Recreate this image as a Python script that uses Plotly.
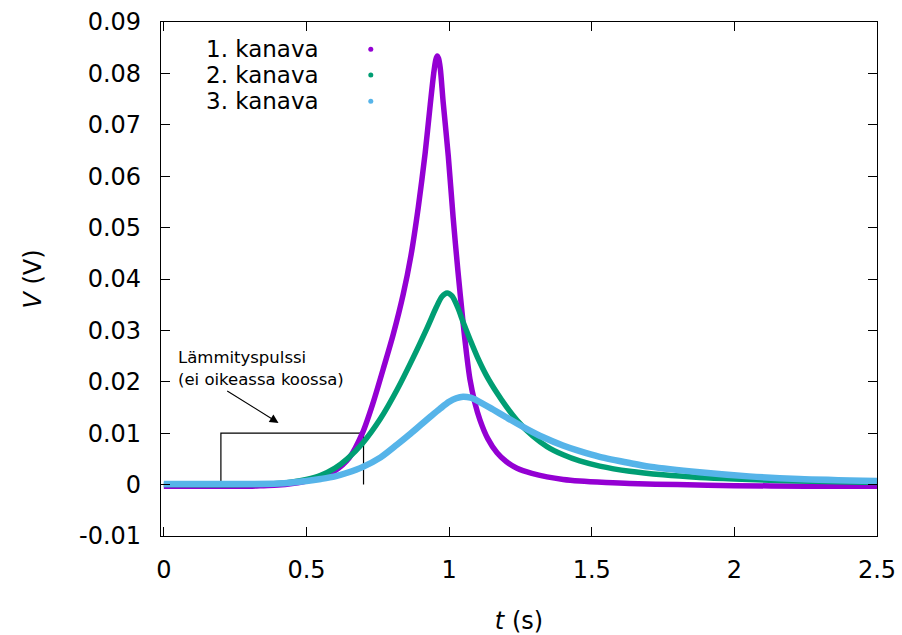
import plotly.graph_objects as go

# Measured channel voltages (V) against time (s)
t_ch1 = [0.0, 0.1, 0.2, 0.3, 0.35, 0.4, 0.45, 0.5, 0.55, 0.6, 0.65, 0.696, 0.734, 0.769,
         0.804, 0.839, 0.866, 0.892, 0.916, 0.934, 0.946, 0.953, 0.958, 0.963, 0.969,
         0.979, 0.997, 1.014, 1.031, 1.049, 1.061, 1.073, 1.09, 1.108, 1.135, 1.168, 1.2,
         1.238, 1.29, 1.343, 1.4, 1.458, 1.55, 1.633, 1.8, 2.0, 2.25, 2.5]
v_ch1 = [-0.0003, -0.0003, -0.0003, -0.0003, -0.0002, -0.0001, 0.0002, 0.0007, 0.0014,
         0.0027, 0.0052, 0.0100, 0.0160, 0.0225, 0.0292, 0.0370, 0.0445, 0.0540, 0.0645,
         0.0740, 0.0800, 0.0826, 0.0834, 0.0829, 0.0810, 0.0745, 0.0640, 0.0520, 0.0415,
         0.0315, 0.0255, 0.0205, 0.0160, 0.0126, 0.0090, 0.0062, 0.0045, 0.0032, 0.0022,
         0.0015, 0.0010, 0.0007, 0.0004, 0.0002, 0.0, -0.0002, -0.0003, -0.0003]

t_ch2 = [0.0, 0.3, 0.4, 0.45, 0.5, 0.55, 0.6, 0.643, 0.696, 0.759, 0.818, 0.874, 0.923,
         0.955, 0.975, 0.993, 1.01, 1.03, 1.05, 1.075, 1.1, 1.13, 1.168, 1.2, 1.238,
         1.294, 1.343, 1.4, 1.458, 1.528, 1.633, 1.75, 1.878, 2.0, 2.227, 2.5]
v_ch2 = [0.0, 0.0, 0.0002, 0.0005, 0.0010, 0.0018, 0.0032, 0.0050, 0.0080, 0.0128,
         0.0185, 0.0247, 0.0305, 0.0345, 0.0366, 0.0373, 0.0367, 0.0345, 0.0315, 0.0280,
         0.0247, 0.0213, 0.0178, 0.0152, 0.0125, 0.0094, 0.0074, 0.0058, 0.0046, 0.0036,
         0.0026, 0.0019, 0.0014, 0.0011, 0.0007, 0.0004]

t_ch3 = [0.0, 0.3, 0.4, 0.45, 0.5, 0.55, 0.6, 0.643, 0.696, 0.76, 0.818, 0.86, 0.9,
         0.934, 0.969, 1.0, 1.025, 1.049, 1.075, 1.1, 1.154, 1.2, 1.273, 1.33, 1.399,
         1.458, 1.528, 1.633, 1.703, 1.878, 2.052, 2.227, 2.5]
v_ch3 = [0.0001, 0.0001, 0.0002, 0.0004, 0.0007, 0.0011, 0.0016, 0.0023, 0.0034, 0.0053,
         0.0078, 0.0097, 0.0116, 0.0132, 0.0148, 0.0161, 0.0168, 0.0171, 0.0169, 0.0163,
         0.0146, 0.0131, 0.0108, 0.0092, 0.0076, 0.0065, 0.0054, 0.0042, 0.0035, 0.0024,
         0.0016, 0.0011, 0.0007]

series_names = ["1. kanava", "2. kanava", "3. kanava"]
series_colors = ["#9400d3", "#009e73", "#56b4e9"]
series_widths = [5.5, 5.5, 6.5]

# Heating pulse outline (not to scale): start, end, height
pulse_t = [0.2, 0.7]
pulse_v = 0.01

x_ticks = [0, 0.5, 1, 1.5, 2, 2.5]
x_tick_text = ["0", "0.5", "1", "1.5", "2", "2.5"]
y_ticks = [-0.01, 0, 0.01, 0.02, 0.03, 0.04, 0.05, 0.06, 0.07, 0.08, 0.09]
y_tick_text = ["-0.01", "0", "0.01", "0.02", "0.03", "0.04", "0.05", "0.06", "0.07",
               "0.08", "0.09"]

FONT = "DejaVu Sans"
BIG = 24

fig = go.Figure()

# Pulse outline drawn as a trace so it uses the data axes
fig.add_trace(go.Scatter(
    x=[pulse_t[0], pulse_t[0], pulse_t[1], pulse_t[1]],
    y=[0, pulse_v, pulse_v, 0],
    mode="lines", line=dict(color="black", width=1.2),
    showlegend=False, hoverinfo="skip",
))

for t, v, name, col, w in zip([t_ch1, t_ch2, t_ch3], [v_ch1, v_ch2, v_ch3],
                              series_names, series_colors, series_widths):
    fig.add_trace(go.Scatter(
        x=t, y=v, mode="lines", name=name,
        line=dict(color=col, width=w, shape="spline", smoothing=0.8),
        showlegend=False,
    ))

# Key: right-aligned labels followed by a dot sample
key_y = [0.947, 0.897, 0.846]
for name, col, ky in zip(series_names, series_colors, key_y):
    fig.add_annotation(
        xref="paper", yref="paper", x=0.222, y=ky, text=name, showarrow=False,
        xanchor="right", yanchor="middle", height=24, borderpad=0,
        font=dict(family=FONT, size=23, color="black"),
    )
    fig.add_shape(
        type="circle", xref="paper", yref="paper", xsizemode="pixel", ysizemode="pixel",
        xanchor=0.293, yanchor=ky, x0=-2.5, x1=2.5, y0=-2.5, y1=2.5,
        fillcolor=col, line=dict(width=0),
    )

# Label for the heating pulse with an arrow to the outline
fig.add_annotation(
    x=0.042, y=0.0248, xref="x", yref="y", text="Lämmityspulssi", showarrow=False,
    xanchor="left", yanchor="middle", font=dict(family=FONT, size=16.5, color="black"),
)
fig.add_annotation(
    x=0.042, y=0.0204, xref="x", yref="y", text="(ei oikeassa koossa)", showarrow=False,
    xanchor="left", yanchor="middle", font=dict(family=FONT, size=16.5, color="black"),
)
fig.add_annotation(
    x=0.402, y=0.0120, ax=0.217, ay=0.0184, xref="x", yref="y", axref="x", ayref="y",
    text="", showarrow=True, arrowhead=2, arrowsize=1.6, arrowwidth=1.1,
    arrowcolor="black",
)

axis_common = dict(
    showline=True, linecolor="black", linewidth=1.2, mirror="ticks",
    ticks="inside", ticklen=9, tickwidth=1.2, tickcolor="black",
    showgrid=False, zeroline=False, automargin=False,
    tickfont=dict(family=FONT, size=BIG, color="black"),
)

fig.update_xaxes(
    range=[-0.01, 2.5], tickvals=x_ticks, ticktext=x_tick_text,
    ticklabelstandoff=12,
    title=dict(text="<i>t</i> (s)", font=dict(family=FONT, size=BIG, color="black"),
               standoff=34),
    **axis_common,
)
fig.update_yaxes(
    range=[-0.01, 0.09], tickvals=y_ticks, ticktext=y_tick_text,
    ticklabelstandoff=14,
    title=dict(text="<i>V</i> (V)", font=dict(family=FONT, size=BIG, color="black"),
               standoff=30),
    **axis_common,
)

fig.update_layout(
    width=902, height=635,
    margin=dict(l=161, r=25, t=22, b=99),
    paper_bgcolor="white", plot_bgcolor="white",
    showlegend=False,
)

fig.write_html("out.html")
